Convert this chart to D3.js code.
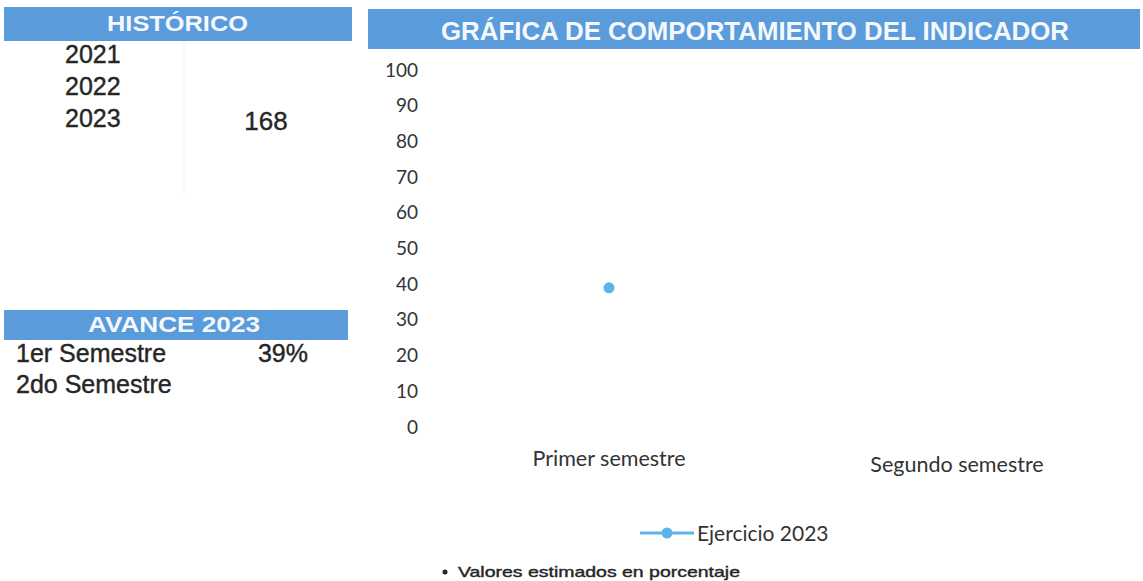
<!DOCTYPE html>
<html>
<head>
<meta charset="utf-8">
<script src="https://cdn.jsdelivr.net/npm/d3@7"></script>
<style>
  body { margin: 0; background: #fff; }
  svg { display: block; }
</style>
</head>
<body>
<div id="viz"></div>
<script>
// data
const historicoYears = ["2021", "2022", "2023"];
const historicoValues = [null, null, 168];
const avanceLabels = ["1er Semestre", "2do Semestre"];
const avanceValues = ["39%", null];
const categories = ["Primer semestre", "Segundo semestre"];
const serieName = "Ejercicio 2023";
const serieValues = [39, null];
const yTicks = [0, 10, 20, 30, 40, 50, 60, 70, 80, 90, 100];

const W = 1143, H = 581;
const blue = "#5a9bdc",
    dotBlue = "#5db4ea",
    ink = "#262626";

const svg = d3.select("#viz").append("svg")
    .attr("width", W)
    .attr("height", H);

// ---- left panel: HISTORICO ----
svg.append("rect")
    .attr("x", 4).attr("y", 7).attr("width", 348).attr("height", 34)
    .attr("fill", blue);
svg.append("text")
    .attr("x", 107).attr("y", 31)
    .attr("textLength", 141)
    .attr("lengthAdjust", "spacingAndGlyphs")
    .attr("font-family", "Liberation Sans, Arial")
    .attr("font-weight", "bold")
    .attr("font-size", 22)
    .attr("fill", "#f4f8fc")
    .text("HISTÓRICO");

// faint column rule
svg.append("line")
    .attr("x1", 184).attr("x2", 184).attr("y1", 42).attr("y2", 195)
    .attr("stroke", "#f3f3f3");

const histY = d3.scalePoint().domain(historicoYears).range([63, 127]);
svg.selectAll(".hyear")
    .data(historicoYears)
    .join("text")
    .attr("class", "hyear")
    .attr("x", 65)
    .attr("y", d => histY(d))
    .attr("font-family", "Liberation Sans, Arial")
    .attr("font-size", 25)
    .attr("fill", ink)
    .attr("stroke", ink)
    .attr("stroke-width", 0.4)
    .text(d => d);
svg.selectAll(".hval")
    .data(historicoValues.map((v, i) => ({v: v, y: historicoYears[i]})).filter(d => d.v != null))
    .join("text")
    .attr("class", "hval")
    .attr("x", 266)
    .attr("y", d => histY(d.y) + 3)
    .attr("text-anchor", "middle")
    .attr("font-family", "Liberation Sans, Arial")
    .attr("font-size", 26)
    .attr("fill", ink)
    .attr("stroke", ink)
    .attr("stroke-width", 0.4)
    .text(d => d.v);

// ---- left panel: AVANCE ----
svg.append("rect")
    .attr("x", 4).attr("y", 310).attr("width", 344).attr("height", 30)
    .attr("fill", blue);
svg.append("text")
    .attr("x", 88).attr("y", 332)
    .attr("textLength", 172)
    .attr("lengthAdjust", "spacingAndGlyphs")
    .attr("font-family", "Liberation Sans, Arial")
    .attr("font-weight", "bold")
    .attr("font-size", 22)
    .attr("fill", "#f4f8fc")
    .text("AVANCE 2023");

const avY = d3.scalePoint().domain(avanceLabels).range([362, 393]);
svg.selectAll(".alab")
    .data(avanceLabels)
    .join("text")
    .attr("class", "alab")
    .attr("x", 16)
    .attr("y", d => avY(d))
    .attr("font-family", "Liberation Sans, Arial")
    .attr("font-size", 25)
    .attr("fill", ink)
    .attr("stroke", ink)
    .attr("stroke-width", 0.4)
    .text(d => d);
svg.selectAll(".aval")
    .data(avanceValues.map((v, i) => ({v: v, l: avanceLabels[i]})).filter(d => d.v != null))
    .join("text")
    .attr("class", "aval")
    .attr("x", 283)
    .attr("y", d => avY(d.l))
    .attr("text-anchor", "middle")
    .attr("font-family", "Liberation Sans, Arial")
    .attr("font-size", 25)
    .attr("fill", ink)
    .attr("stroke", ink)
    .attr("stroke-width", 0.4)
    .text(d => d.v);

// ---- chart title ----
svg.append("rect")
    .attr("x", 368).attr("y", 9).attr("width", 772).attr("height", 40)
    .attr("fill", blue);
svg.append("text")
    .attr("x", 441).attr("y", 40)
    .attr("textLength", 628)
    .attr("lengthAdjust", "spacingAndGlyphs")
    .attr("font-family", "Liberation Sans, Arial")
    .attr("font-weight", "bold")
    .attr("font-size", 26)
    .attr("fill", "#f4f8fc")
    .text("GRÁFICA DE COMPORTAMIENTO DEL INDICADOR");

// ---- chart ----
const x = d3.scaleBand()
    .domain(categories)
    .range([435, 1131]);
const y = d3.scaleLinear()
    .domain([0, 100])
    .range([427, 70]);

const yAxis = svg.append("g")
    .attr("transform", "translate(426,0)")
    .call(d3.axisLeft(y).tickValues(yTicks).tickSize(0).tickPadding(8));
yAxis.select(".domain").remove();
yAxis.selectAll("text")
    .attr("font-family", "Lato, Open Sans, sans-serif")
    .attr("font-size", 19)
    .attr("fill", "#333");

const xAxis = svg.append("g")
    .attr("transform", "translate(0,440)")
    .call(d3.axisBottom(x).tickSize(0).tickPadding(10));
xAxis.select(".domain").remove();
xAxis.selectAll("text")
    .attr("font-family", "Lato, Open Sans, sans-serif")
    .attr("font-size", 21.5)
    .attr("fill", "#333")
    .attr("dy", (d, i) => i === 1 ? "1.0em" : "0.75em");

const pts = serieValues.map((v, i) => ({c: categories[i], v: v})).filter(d => d.v != null);

const line = d3.line()
    .defined(d => d.v != null)
    .x(d => x(d.c) + x.bandwidth() / 2)
    .y(d => y(d.v));

svg.append("path")
    .datum(serieValues.map((v, i) => ({c: categories[i], v: v})))
    .attr("d", line)
    .attr("fill", "none")
    .attr("stroke", dotBlue)
    .attr("stroke-width", 3);

svg.selectAll(".pt")
    .data(pts)
    .join("circle")
    .attr("class", "pt")
    .attr("cx", d => x(d.c) + x.bandwidth() / 2)
    .attr("cy", d => y(d.v))
    .attr("r", 5.5)
    .attr("fill", dotBlue);

// ---- legend ----
const lg = svg.append("g").attr("transform", "translate(640,533)");
lg.append("line")
    .attr("x1", 0).attr("x2", 54).attr("y1", 0).attr("y2", 0)
    .attr("stroke", dotBlue).attr("stroke-width", 3);
lg.append("circle")
    .attr("cx", 27).attr("cy", 0).attr("r", 5.5)
    .attr("fill", dotBlue);
lg.append("text")
    .attr("x", 57).attr("y", 8)
    .attr("font-family", "Lato, Open Sans, sans-serif")
    .attr("font-size", 21)
    .attr("fill", "#333")
    .text(serieName);

// ---- footnote ----
svg.append("circle")
    .attr("cx", 445).attr("cy", 572).attr("r", 2.5)
    .attr("fill", ink);
svg.append("text")
    .attr("x", 458).attr("y", 577)
    .attr("textLength", 282)
    .attr("lengthAdjust", "spacingAndGlyphs")
    .attr("font-family", "Liberation Sans, Arial")
    .attr("font-size", 15)
    .attr("fill", ink)
    .attr("stroke", ink)
    .attr("stroke-width", 0.4)
    .text("Valores estimados en porcentaje");
</script>
</body>
</html>
